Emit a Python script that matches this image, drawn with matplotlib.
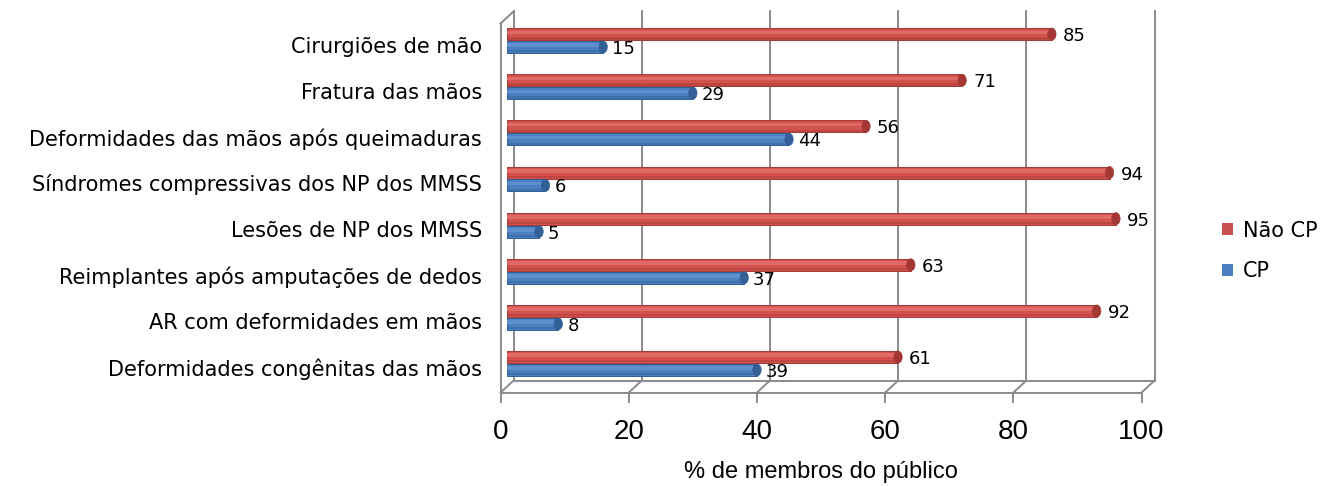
import numpy as np
import matplotlib
matplotlib.use("Agg")
import matplotlib.pyplot as plt
import matplotlib.transforms as mtrans
from matplotlib.patches import Ellipse, Patch

categories = [
    "Cirurgiões de mão",
    "Fratura das mãos",
    "Deformidades das mãos após queimaduras",
    "Síndromes compressivas dos NP dos MMSS",
    "Lesões de NP dos MMSS",
    "Reimplantes após amputações de dedos",
    "AR com deformidades em mãos",
    "Deformidades congênitas das mãos",
]
nao_cp = [85, 71, 56, 94, 95, 63, 92, 61]
cp = [15, 29, 44, 6, 5, 37, 8, 39]
xticks = [0, 20, 40, 60, 80, 100]
series_names = ["Não CP", "CP"]

W, H = 1320, 486
fig = plt.figure(figsize=(W / 100, H / 100), dpi=100)
plt.rcParams['font.family'] = ['DejaVu Sans']

ax_l, ax_r, ax_t, ax_b = 507, 1148, 17.5, 386.6
ax = fig.add_axes([ax_l / W, (H - ax_b) / H, (ax_r - ax_l) / W, (ax_b - ax_t) / H])
ax.set_xlim(0, 100)
ax.set_ylim(7.5, -0.5)
ax.axis("off")

px_x = (ax_r - ax_l) / 100.0   # pixels per x unit
px_y = (ax_b - ax_t) / 8.0     # pixels per y unit
dx = 6.5 / px_x
dy = 6.0 / px_y

grid_c = "#8a8a8a"
lw = 1.4
# back wall gridlines
for t in xticks:
    ax.plot([t + dx, t + dx], [-0.5 - dy, 7.5 - dy], color=grid_c, lw=lw, clip_on=False, zorder=0)
# left side wall front edge + top slant
ax.plot([-dx, -dx], [-0.5 + dy, 7.5 + dy], color=grid_c, lw=lw, clip_on=False, zorder=0)
ax.plot([-dx, dx], [-0.5 + dy, -0.5 - dy], color=grid_c, lw=lw, clip_on=False, zorder=0)
# floor
ax.plot([dx, 100 + dx], [7.5 - dy, 7.5 - dy], color=grid_c, lw=lw, clip_on=False, zorder=0)
ax.plot([-dx, 100 - dx], [7.5 + dy, 7.5 + dy], color=grid_c, lw=lw, clip_on=False, zorder=0)
for t in xticks:
    ax.plot([t + dx, t - dx], [7.5 - dy, 7.5 + dy], color=grid_c, lw=lw, clip_on=False, zorder=0)
    ax.plot([t - dx, t - dx], [7.5 + dy, 7.5 + dy + 9 / px_y], color=grid_c, lw=lw, clip_on=False, zorder=0)

# tick labels
btr = mtrans.blended_transform_factory(ax.transData, fig.transFigure)
for t in xticks:
    ax.text(t - dx, 1 - 432 / H, str(t), transform=btr, ha="center", va="center",
            fontsize=20, family="Liberation Sans")
fig.text((500 + 1142) / 2 / W, 1 - 472 / H, "% de membros do público", ha="center", va="center",
         fontsize=17, family="Liberation Sans")

y = np.arange(len(categories))
h = 0.26
off = 0.14

def cyl(ax, vals, ypos, base, light, dark):
    ax.barh(ypos, vals, height=h, color=base, edgecolor=dark, linewidth=0.7, zorder=3)
    ax.barh(ypos - h * 0.15, vals, height=h * 0.3, color=light, linewidth=0, zorder=4)
    ax.barh(ypos + h * 0.36, vals, height=h * 0.18, color=dark, alpha=0.45, linewidth=0, zorder=4)
    for v, yy in zip(vals, ypos):
        e = Ellipse((v, yy), width=1.3, height=h, facecolor=dark, edgecolor=dark, lw=0.5, zorder=5)
        ax.add_patch(e)

cyl(ax, nao_cp, y - off, "#D4524E", "#E06A65", "#A33734")
cyl(ax, cp, y + off, "#4A7FC1", "#5F90CE", "#315F96")

for v, yy in zip(nao_cp, y - off):
    ax.annotate(str(v), (v, yy), xytext=(11, -2), textcoords="offset pixels",
                ha="left", va="center", fontsize=13, zorder=6)
for v, yy in zip(cp, y + off):
    ax.annotate(str(v), (v, yy), xytext=(9, -2), textcoords="offset pixels",
                ha="left", va="center", fontsize=13, zorder=6)

# category labels
ltr = ax.transData + mtrans.ScaledTranslation(-25 / 100, -6 / 100, fig.dpi_scale_trans)
for yi, c in zip(y, categories):
    ax.text(0, yi, c, transform=ltr, ha="right", va="center", fontsize=15.0)

handles = [Patch(facecolor="#C9504C", edgecolor="none"), Patch(facecolor="#4A7FC1", edgecolor="none")]
fig.legend(handles, series_names, loc="center left", bbox_to_anchor=(1203 / W, 1 - 251 / H),
           frameon=False, fontsize=15, handlelength=0.55, handleheight=0.55, handletextpad=0.45,
           labelspacing=1.0)

fig.savefig("out.png", dpi=100)
